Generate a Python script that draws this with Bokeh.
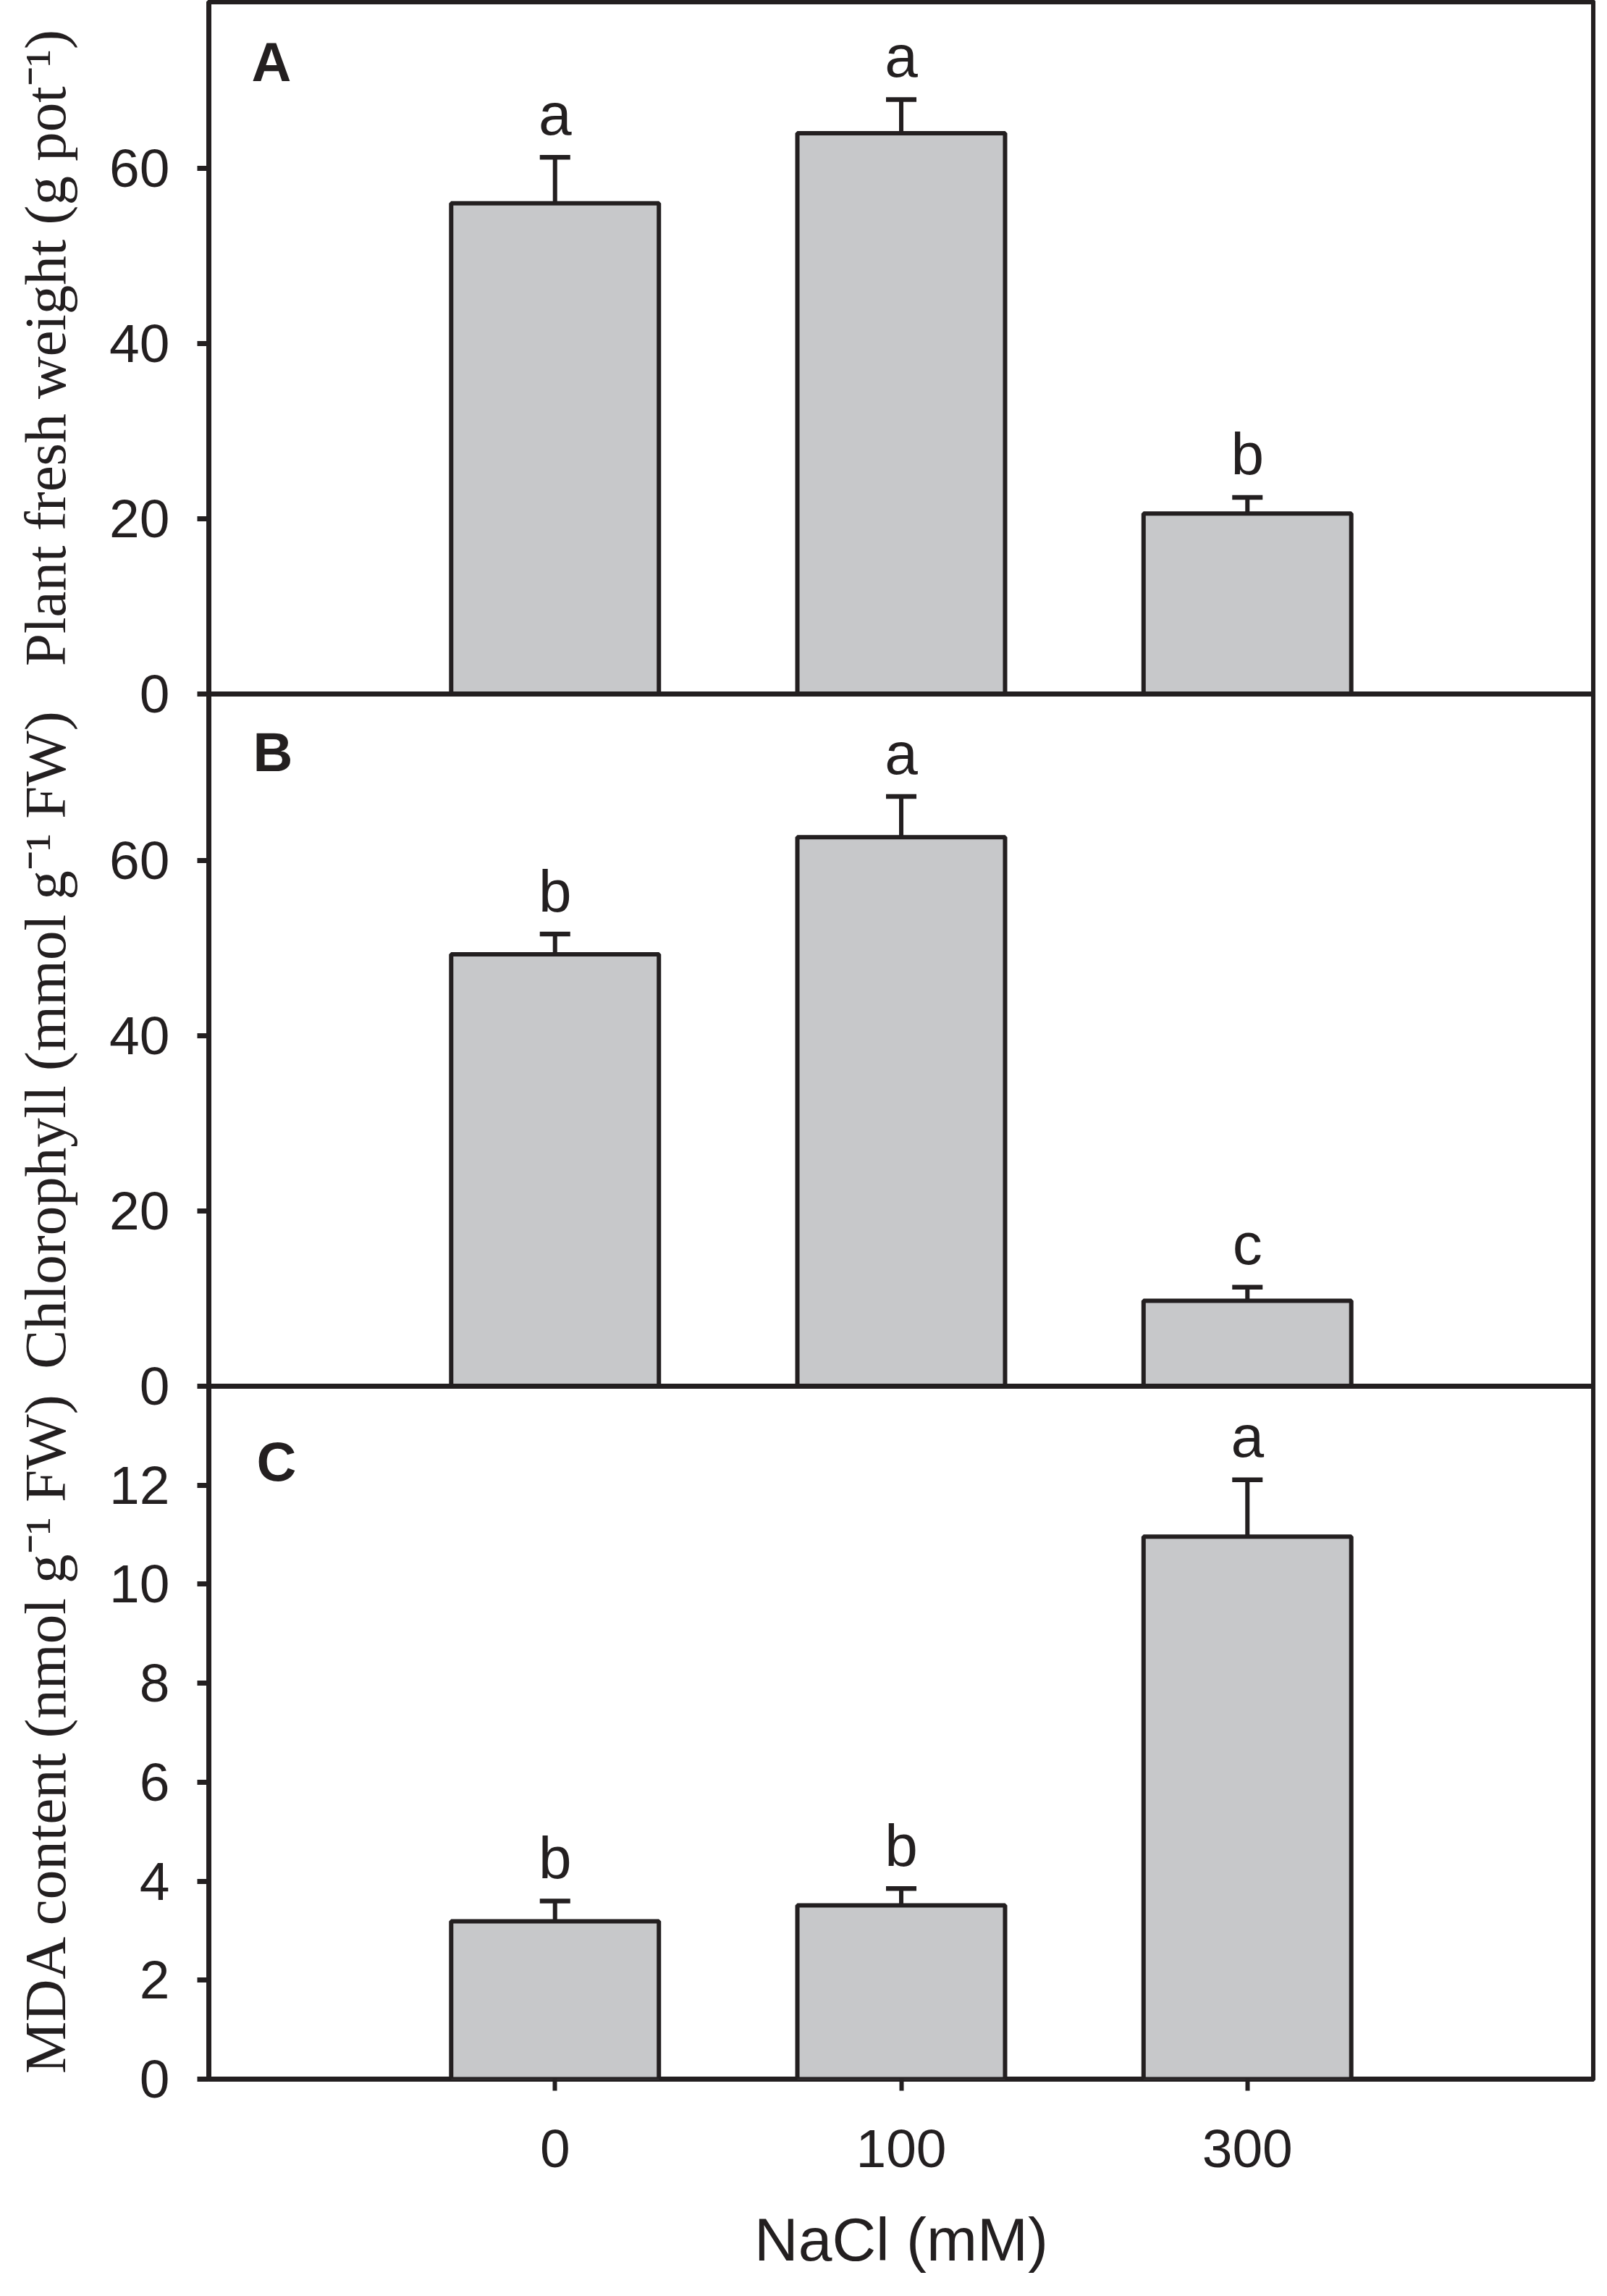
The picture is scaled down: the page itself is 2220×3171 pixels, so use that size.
from bokeh.plotting import figure
from bokeh.models import (FactorRange, Range1d, FixedTicker, ColumnDataSource,
                          Whisker, TeeHead, Label)
from bokeh.layouts import column
from bokeh.embed import file_html
from bokeh.resources import INLINE
from bokeh.core.properties import value

# ---------------- data ----------------
nacl = ["0", "100", "300"]

fresh_weight = [56.0, 64.0, 20.6]
fresh_weight_se = [5.25, 3.85, 1.84]
fresh_weight_letters = ["a", "a", "b"]

chlorophyll = [49.3, 62.65, 9.76]
chlorophyll_se = [2.3, 4.65, 1.54]
chlorophyll_letters = ["b", "a", "c"]

mda = [3.19, 3.51, 10.96]
mda_se = [0.41, 0.34, 1.15]
mda_letters = ["b", "b", "a"]

ticks_ab = [0, 20, 40, 60]
ticks_c = [0, 2, 4, 6, 8, 10, 12]

# ---------------- style ----------------
INK = "#231f20"
BAR = "#c7c8ca"
SANS = "Liberation Sans"
SERIF = "Liberation Serif"
W = 2204
LEFT = 288

xr = FactorRange(*nacl, range_padding=0.5, range_padding_units="absolute")


def make_panel(vals, ses, letters, ylabel, yend, yticks, tag, tag_pos,
               top, frame_h, bottom, show_x, overlap):
    p = figure(width=W, height=top + frame_h + bottom, x_range=xr,
               y_range=Range1d(0, yend), output_backend="svg",
               toolbar_location=None, min_border_left=LEFT,
               min_border_right=3, min_border_top=top,
               min_border_bottom=bottom)
    p.outline_line_color = INK
    p.outline_line_width = 7
    p.outline_line_alpha = 1
    p.background_fill_color = "white"
    if overlap:
        p.border_fill_alpha = 0
        p.margin = (-overlap, 0, 0, 0)
    p.xgrid.visible = False
    p.ygrid.visible = False

    upper = [v + s for v, s in zip(vals, ses)]
    src = ColumnDataSource(dict(x=nacl, top=vals, upper=upper, lab=letters))

    p.vbar(x="x", top="top", bottom=0, width=0.6, source=src,
           fill_color=BAR, line_color=INK, line_width=6)

    w = Whisker(base="x", lower="top", upper="upper", source=src,
                dimension="height", line_color=INK, line_width=6,
                lower_head=None,
                upper_head=TeeHead(size=42, line_color=INK, line_width=6.5))
    p.add_layout(w)

    p.text(x="x", y="upper", text="lab", source=src, text_align="center",
           text_baseline="alphabetic", y_offset=-60,
           text_font=value(SANS), text_font_size="82px", text_color=INK)

    p.add_layout(Label(x=tag_pos[0], y=frame_h - tag_pos[1],
                       x_units="screen", y_units="screen", text=tag,
                       text_font=SANS, text_font_size="76px",
                       text_font_style="bold", text_color=INK,
                       text_baseline="alphabetic", text_align="left"))

    ya = p.yaxis[0]
    ya.ticker = FixedTicker(ticks=yticks)
    ya.axis_line_color = None
    ya.major_tick_in = 0
    ya.major_tick_out = 16
    ya.major_tick_line_width = 7
    ya.major_tick_line_color = INK
    ya.minor_tick_line_color = None
    ya.major_label_text_font = SANS
    ya.major_label_text_font_size = "75px"
    ya.major_label_text_color = INK
    ya.major_label_standoff = 38
    ya.axis_label = ylabel
    ya.axis_label_text_font = SERIF
    ya.axis_label_text_font_size = "81px"
    ya.axis_label_text_font_style = "normal"
    ya.axis_label_text_color = INK
    ya.axis_label_standoff = 40

    xa = p.xaxis[0]
    if show_x:
        xa.axis_line_color = None
        xa.major_tick_in = 0
        xa.major_tick_out = 16
        xa.major_tick_line_width = 6
        xa.major_tick_line_color = INK
        xa.minor_tick_line_color = None
        xa.major_label_text_font = SANS
        xa.major_label_text_font_size = "75px"
        xa.major_label_text_color = INK
        xa.major_label_standoff = 54
        xa.axis_label = "NaCl (mM)"
        xa.axis_label_text_font = SANS
        xa.axis_label_text_font_size = "84px"
        xa.axis_label_text_font_style = "normal"
        xa.axis_label_text_color = INK
        xa.axis_label_standoff = 50
    else:
        xa.visible = False
    return p


pa = make_panel(fresh_weight, fresh_weight_se, fresh_weight_letters,
                "Plant fresh weight (g pot\u207b\u00b9)", 79, ticks_ab,
                "A", (59, 83), 2, 956, 44, False, 0)
pb = make_panel(chlorophyll, chlorophyll_se, chlorophyll_letters,
                "Chlorophyll (mmol g\u207b\u00b9 FW)", 79, ticks_ab,
                "B", (61, 80), 4, 956, 44, False, 48)
pc = make_panel(mda, mda_se, mda_letters,
                "MDA content (nmol g\u207b\u00b9 FW)", 14, ticks_c,
                "C", (66, 104), 4, 957, 276, True, 48)

layout = column(pa, pb, pc, spacing=0)

open("out.html", "w").write(file_html(layout, INLINE))
